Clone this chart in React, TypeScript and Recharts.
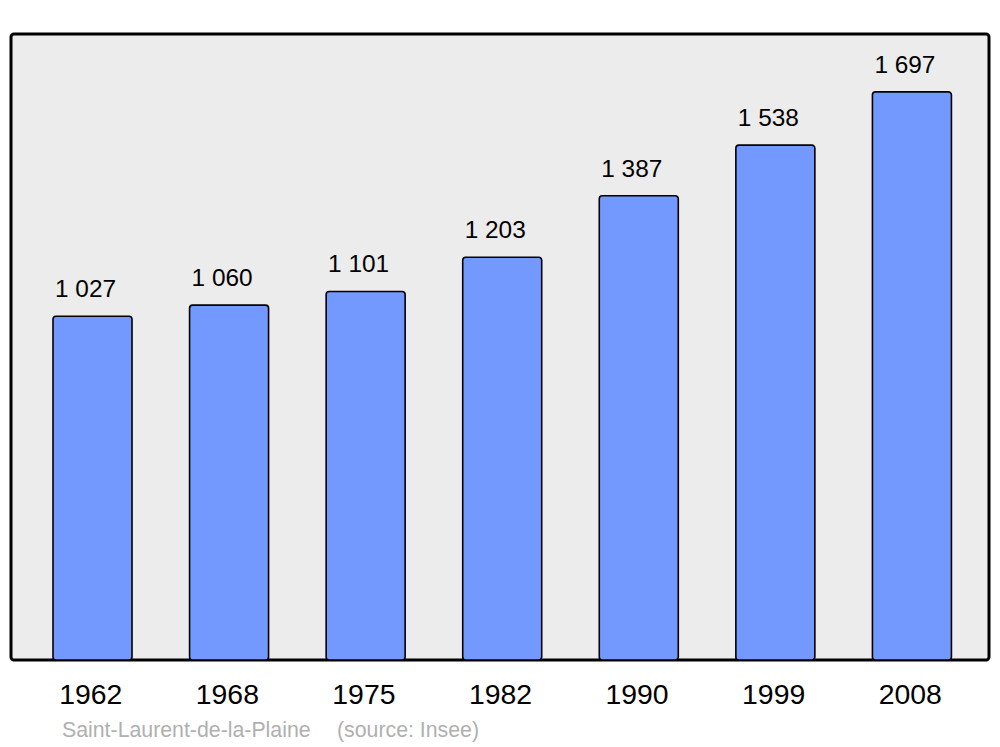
import React from 'react';
import { BarChart, Bar, XAxis, YAxis, LabelList } from 'recharts';

const years = ['1962', '1968', '1975', '1982', '1990', '1999', '2008'];
const population = [1027, 1060, 1101, 1203, 1387, 1538, 1697];
const commune = 'Saint-Laurent-de-la-Plaine';
const sourceText = '(source: Insee)';

const data = years.map((y, i) => ({ year: y, pop: population[i] }));

const W = 1000;
const H = 747;
const M = { top: 34, left: 11, right: 11, bottom: 37 };
const XAXIS_H = 50;
const FONT = '"Liberation Sans", Arial, sans-serif';

const fmt = (v: number) => {
  const s = String(v);
  return s.replace(/\B(?=(\d{3})+(?!\d))/g, ' ');
};

const ValueLabel = (props: any) => {
  const { x, y, width, value } = props;
  return (
    <text
      x={x + width / 2 - 7}
      y={y - 19}
      textAnchor="middle"
      fontSize={24.4}
      fontFamily={FONT}
      fill="#000"
    >
      {fmt(value)}
    </text>
  );
};

const YearTick = (props: any) => {
  const { x, y, payload } = props;
  return (
    <text x={x - 1.5} y={y + 44} textAnchor="middle" fontSize={28.4} fontFamily={FONT} fill="#000">
      {payload.value}
    </text>
  );
};

export default function App() {
  const plotW = W - M.left - M.right;
  const plotH = H - M.top - M.bottom - XAXIS_H;
  return (
    <div style={{ position: 'absolute', left: 0, top: 0, width: W, height: H, background: '#fff' }}>
      <svg width={W} height={H} style={{ position: 'absolute', left: 0, top: 0 }}>
        <rect
          x={M.left}
          y={M.top}
          width={plotW}
          height={plotH}
          rx={3}
          ry={3}
          fill="#ececec"
          stroke="#000"
          strokeWidth={3}
        />
        <text x={62} y={737} fontSize={21.3} fontFamily={FONT} fill="#b0b0b0">
          {commune}
        </text>
        <text x={337} y={737} fontSize={21.3} fontFamily={FONT} fill="#b0b0b0">
          {sourceText}
        </text>
      </svg>
      <div style={{ position: 'absolute', left: 0, top: 0 }}>
        <BarChart width={W} height={H} data={data} margin={M} barSize={79}>
          <XAxis
            dataKey="year"
            axisLine={false}
            tickLine={false}
            tickSize={0}
            tickMargin={0}
            height={XAXIS_H}
            padding={{ left: 13, right: 9 }}
            tick={<YearTick />}
            interval={0}
          />
          <YAxis hide domain={[0, 1870]} />
          <Bar
            dataKey="pop"
            fill="#7399ff"
            stroke="#000"
            strokeWidth={1.6}
            radius={[3, 3, 3, 3]}
            isAnimationActive={false}
          >
            <LabelList dataKey="pop" content={<ValueLabel />} />
          </Bar>
        </BarChart>
      </div>
    </div>
  );
}
